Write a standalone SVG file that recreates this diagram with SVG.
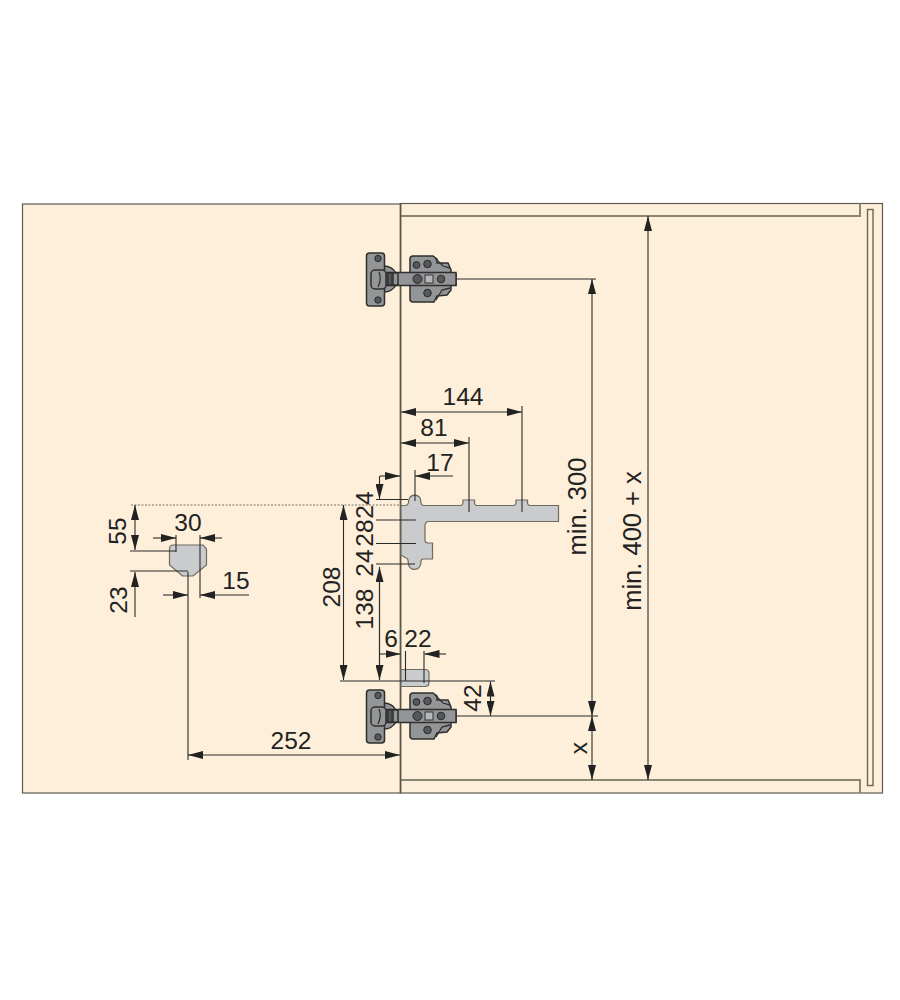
<svg xmlns="http://www.w3.org/2000/svg" xmlns:xlink="http://www.w3.org/1999/xlink" width="900" height="1000" viewBox="0 0 900 1000">
<style>
.body{fill:#fdefd9;stroke:#5f5b50;stroke-width:1.2}
.edge{fill:none;stroke:#5a5647;stroke-width:1.6}
.shelf{fill:none;stroke:#8b8672;stroke-width:2}
.part{fill:#c9cbcc;stroke:#6e6a60;stroke-width:1.2}
.d{fill:none;stroke:#2a2a28;stroke-width:1.1}
.a{marker-end:url(#ah)}
.s{marker-start:url(#ah)}
text{font-family:"Liberation Sans",Arial,sans-serif;font-size:24.500px;fill:#222;text-anchor:middle}
.hm{fill:#939597;stroke:#2f2f2f;stroke-width:1.5}
.hd{fill:#55575a;stroke:#2a2a2a;stroke-width:1}
.hl{fill:none;stroke:#2f2f2f;stroke-width:1.3}
</style>
<defs>
<marker id="ah" markerUnits="userSpaceOnUse" markerWidth="15" markerHeight="8" viewBox="0 0 15 8" refX="15" refY="4" orient="auto-start-reverse"><path d="M0,0L15,4L0,8z" fill="#222"/></marker>
<g id="hinge">
<path class="hm" d="M384,266A14,14 0 0 1 396,273V285A14,14 0 0 1 384,292z"/>
<rect class="hm" x="366.500" y="253" width="18" height="53" rx="3"/>
<rect class="hm" x="371" y="270" width="15" height="19" rx="4"/>
<path class="hl" d="M379,272Q382,279 378,287"/>
<circle class="hd" cx="378" cy="258.500" r="3.200"/>
<circle class="hd" cx="378" cy="300" r="3.200"/>
<path class="hm" d="M410,259Q410,256 413,256H433L437,259V263L448,263L451,270V274H456V285H451V290L447,295L437,296L434,302H413Q410,302 410,299z"/>
<path class="hl" d="M435,258L443,266L450,268M436,300L442,290L450,288"/>
<rect class="hm" x="387" y="272.500" width="69" height="13"/>
<rect class="hd" x="388" y="273" width="4" height="12"/>
<rect class="hm" x="393" y="273" width="5" height="12"/>
<circle class="hd" cx="417.500" cy="279" r="4.500"/>
<rect x="425" y="275" width="8" height="8" fill="#b5b7b8" stroke="#333" stroke-width="1"/>
<circle class="hd" cx="441" cy="279" r="3.800"/>
<circle class="hd" cx="416.500" cy="265" r="3.400"/>
<circle class="hd" cx="427.500" cy="264" r="3.800"/>
<circle class="hd" cx="427.500" cy="293" r="3.800"/>
</g>
</defs>
<g id="cabinet">
<rect class="body" x="400.500" y="203.500" width="482" height="589.500"/>
<path class="shelf" d="M401,216H860V203.500M401,780H860V793"/>
<rect x="867.500" y="209.500" width="5.500" height="576" fill="none" stroke="#6a6656" stroke-width="1.400"/>
</g>
<g id="door">
<rect class="body" x="22.500" y="204" width="378" height="589"/>
<path class="edge" d="M400.500,203V793"/>
</g>
<g id="hinge-top"><use href="#hinge" xlink:href="#hinge"/></g>
<g id="hinge-bottom"><use href="#hinge" xlink:href="#hinge" y="437"/></g>
<g id="template">
<path class="part" d="M401,505.500H405Q408,505.500 408.500,502.500Q408.500,500 409.500,498A6,5.500 0 0 1 420,498Q421,500 421,503Q421.500,505.500 424,505.500H460.500Q462.500,505.500 463,503V500H474.500V503Q475,505.500 477,505.500H513.500Q515.500,505.500 516,503V500H527.500V503Q528,505.500 530,505.500H558.500V521.500H429Q425,521.500 425,526V540Q425,543 428,543H432.500V559H423Q421.500,559 421,561Q421,564 420,566A6,5.500 0 0 1 409,566Q408,563 408,560Q407.500,558 405,557.500L401,555z"/>
</g>
<g id="cup">
<path class="part" d="M173,545H203L206.500,549V565L193,576H182.500L169.500,565V549Q169.500,545 173,545z"/>
</g>
<g id="slot">
<path class="part" d="M401,669.500H425Q429,669.500 429,673.500V682.500Q429,686.500 425,686.500H401z"/>
</g>
<g id="connectors">
<path d="M131,505H400" fill="none" stroke="#77736a" stroke-width="1" stroke-dasharray="2 1.500"/>
<path class="d a s" d="M401,412H522"/>
<path class="d" d="M522,406V512M469,437V512"/>
<path class="d a s" d="M401,443H469"/>
<path class="d a" d="M380,476H400"/>
<path class="d a" d="M453,476H415"/>
<path class="d" d="M415,470V501"/>
<path class="d a" d="M379.500,476V499"/>
<path class="d a" d="M379.500,680V567"/>
<path class="d a" d="M379.500,567V680"/>
<path class="d" d="M376,499.500H408M376,520H416M376,543.500H416M376,564H415"/>
<path class="d a s" d="M343.500,505V680"/>
<path class="d" d="M340,681H495"/>
<path class="d a" d="M380,654H400.500"/>
<path class="d a" d="M446,654H424.500"/>
<path class="d" d="M405.500,651V681M424,651V683"/>
<path class="d a" d="M490.500,705V681.500"/>
<path class="d a" d="M490.500,693V716"/>
<path class="d" d="M456,716H598M456,279H596"/>
<path class="d a s" d="M592,279V716"/>
<path class="d a s" d="M592,716V780"/>
<path class="d a s" d="M648,216V780"/>
<path class="d a s" d="M188,755H400"/>
<path class="d" d="M188,572V760"/>
<path class="d a s" d="M135,505V550"/>
<path class="d a" d="M135,617V572"/>
<path class="d" d="M130,551H176M130,571H188"/>
<path class="d a" d="M153,538H176"/>
<path class="d a" d="M222,538H200"/>
<path class="d" d="M176,535V552M200,535V598"/>
<path class="d a" d="M163,595H188"/>
<path class="d a" d="M249,595H200"/>
</g>
<g id="labels">
<text x="463" y="405">144</text>
<text x="434" y="436">81</text>
<text x="440" y="471">17</text>
<text x="188" y="531">30</text>
<text x="236" y="589">15</text>
<text x="291" y="749">252</text>
<text x="391" y="647">6</text>
<text x="418" y="647">22</text>
<text transform="translate(372.500,505) rotate(-90)">24</text>
<text transform="translate(372.500,533) rotate(-90)">28</text>
<text transform="translate(372.500,563) rotate(-90)">24</text>
<text transform="translate(372.500,609) rotate(-90)">138</text>
<text transform="translate(340,587) rotate(-90)">208</text>
<text transform="translate(126,531) rotate(-90)">55</text>
<text transform="translate(126.500,600) rotate(-90)">23</text>
<text transform="translate(481,698) rotate(-90)">42</text>
<text transform="translate(586,506.500) rotate(-90)" style="font-size:25.500px">min. 300</text>
<text transform="translate(641,541) rotate(-90)" style="font-size:25.500px">min. 400 + x</text>
<text transform="translate(587,748) rotate(-90)">x</text>
</g>
</svg>
